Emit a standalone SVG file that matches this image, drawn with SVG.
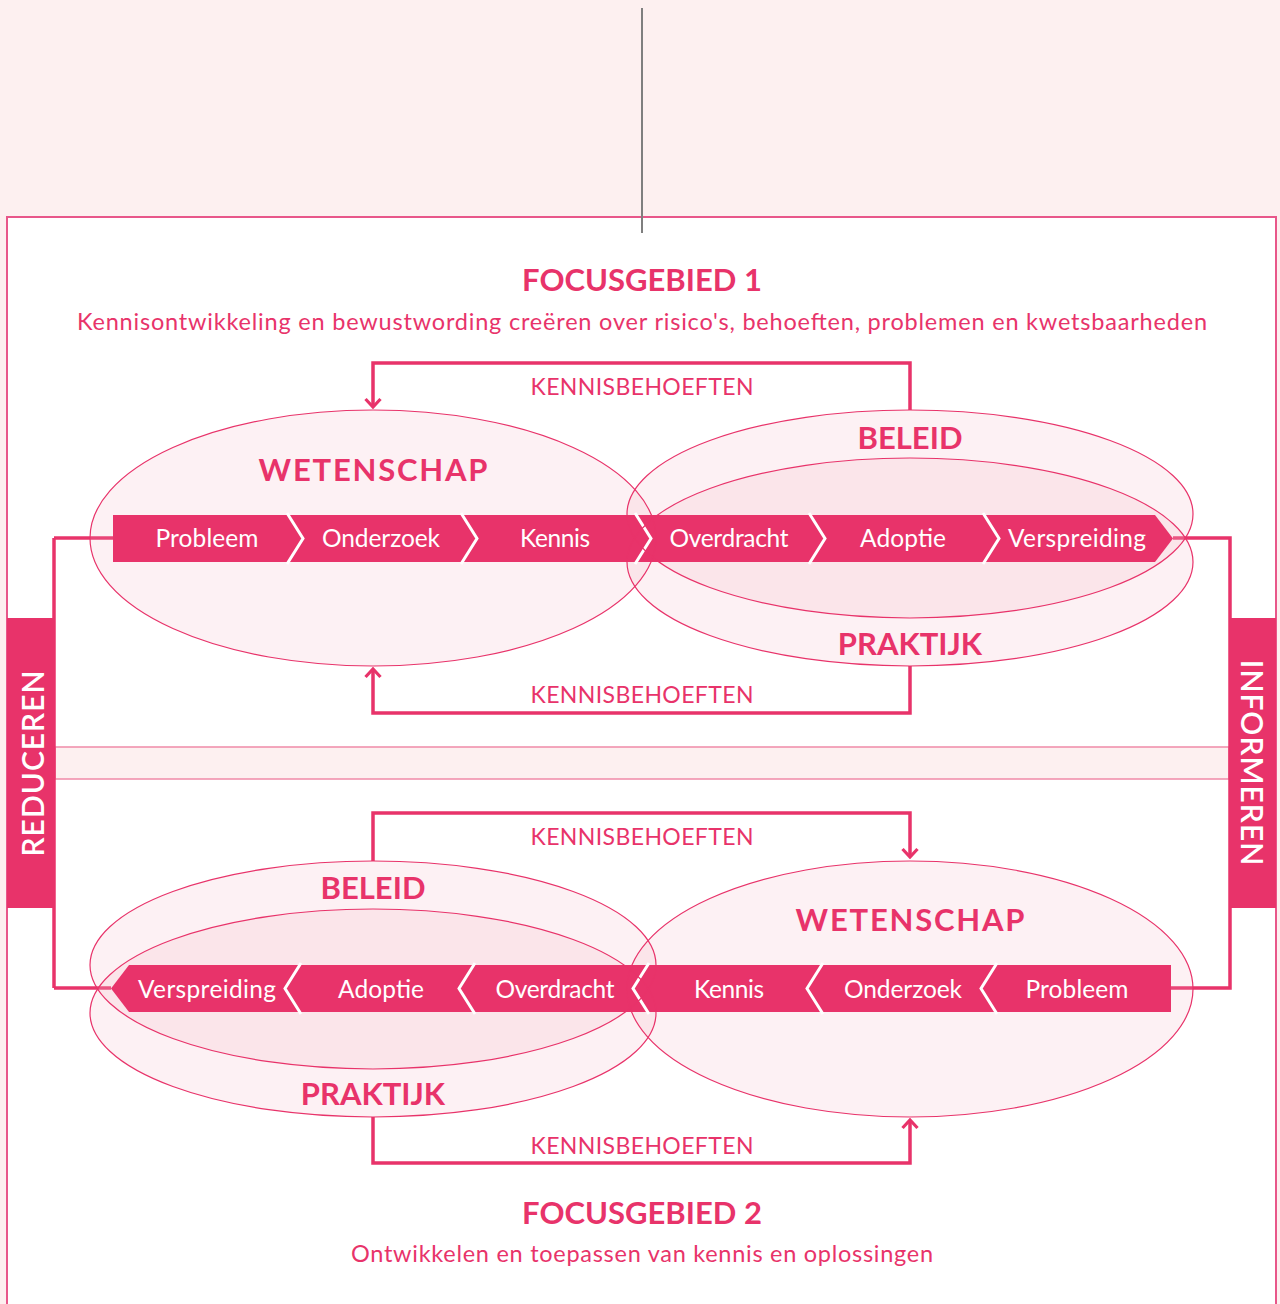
<svg xmlns="http://www.w3.org/2000/svg" width="1280" height="1304" viewBox="0 0 1280 1304">
<style>
.t{font-family:Lato,"Liberation Sans",sans-serif;fill:#e8336a;text-anchor:middle}
.title{font-size:31px;font-weight:700}
.sub{font-size:23.5px}
.big{font-size:31px;font-weight:700}
.kb{font-size:23px}
.band{font-family:Lato,"Liberation Sans",sans-serif;fill:#fff;font-size:24.5px;text-anchor:middle}
.side{font-family:Lato,"Liberation Sans",sans-serif;fill:#fff;font-size:30px;font-weight:600;text-anchor:middle;letter-spacing:1px}
.ef{fill:#f4a9b8;fill-opacity:0.16;stroke:none}
.es{fill:none;stroke:#e8336a;stroke-width:1.2}
.conn{fill:none;stroke:#e8336a;stroke-width:3.5}
.chev{fill:none;stroke:#fff;stroke-width:3}
</style>
<defs>
<marker id="ah" viewBox="0 0 12 18" refX="10" refY="9" markerWidth="12" markerHeight="18" markerUnits="userSpaceOnUse" orient="auto">
<path d="M2,1.5 L10,9 L2,16.5" fill="none" stroke="#e8336a" stroke-width="3.2"/>
</marker>
</defs>
<rect x="0" y="0" width="1280" height="1304" fill="#fdf0f0"/>
<rect x="7" y="217" width="1269" height="1100" fill="#fff" stroke="#e8578a" stroke-width="2"/>
<line x1="642" y1="8" x2="642" y2="233" stroke="#7f7f7f" stroke-width="2"/>
<rect x="55" y="747" width="1174" height="32" fill="#fdf0f0" stroke="#f08aa8" stroke-width="1.5"/>

<g id="titles">
<text class="t title" x="642" y="291">FOCUSGEBIED 1</text>
<text class="t sub" x="642" y="330" textLength="1130" lengthAdjust="spacing">Kennisontwikkeling en bewustwording creëren over risico's, behoeften, problemen en kwetsbaarheden</text>
<text class="t title" x="642" y="1224">FOCUSGEBIED 2</text>
<text class="t sub" x="642" y="1262" textLength="582" lengthAdjust="spacing">Ontwikkelen en toepassen van kennis en oplossingen</text>
</g>

<g id="connectors">
<polyline class="conn" points="54,538 54,988"/>
<polyline class="conn" points="113,538 54,538"/>
<polyline class="conn" points="54,988 111,988"/>
<polyline class="conn" points="1173,538 1230,538 1230,988 1171,988"/>
<polyline class="conn" points="910,410 910,363 373,363 373,407" marker-end="url(#ah)"/>
<polyline class="conn" points="910,666 910,713 373,713 373,669" marker-end="url(#ah)"/>
<polyline class="conn" points="373,861 373,813 910,813 910,857" marker-end="url(#ah)"/>
<polyline class="conn" points="373,1117 373,1163 910,1163 910,1120" marker-end="url(#ah)"/>
<text class="t kb" x="642" y="395" textLength="223" lengthAdjust="spacing">KENNISBEHOEFTEN</text>
<text class="t kb" x="642" y="703" textLength="223" lengthAdjust="spacing">KENNISBEHOEFTEN</text>
<text class="t kb" x="642" y="845" textLength="223" lengthAdjust="spacing">KENNISBEHOEFTEN</text>
<text class="t kb" x="642" y="1154" textLength="223" lengthAdjust="spacing">KENNISBEHOEFTEN</text>
</g>

<g id="side-reduceren">
<rect x="7" y="618" width="48" height="290" fill="#e8336a"/>
<text class="side" transform="translate(44,763) rotate(-90)">REDUCEREN</text>
</g>
<g id="side-informeren">
<rect x="1229" y="618" width="47" height="290" fill="#e8336a"/>
<text class="side" transform="translate(1241,763) rotate(90)">INFORMEREN</text>
</g>

<g id="ellipse-fills">
<ellipse class="ef" cx="373" cy="538" rx="283" ry="128"/>
<ellipse class="ef" cx="910" cy="514" rx="283" ry="104"/>
<ellipse class="ef" cx="910" cy="562" rx="283" ry="104"/>
<ellipse class="ef" cx="910" cy="989" rx="283" ry="128"/>
<ellipse class="ef" cx="373" cy="965" rx="283" ry="104"/>
<ellipse class="ef" cx="373" cy="1013" rx="283" ry="104"/>
</g>

<g id="band-1">
<polygon points="113,515 1155,515 1173,538.5 1155,562 113,562" fill="#e8336a"/>
<polyline class="chev" points="287,513 303,538.5 287,564"/>
<polyline class="chev" points="461,513 477,538.5 461,564"/>
<polyline class="chev" points="635,513 651,538.5 635,564"/>
<polyline class="chev" points="809,513 825,538.5 809,564"/>
<polyline class="chev" points="983,513 999,538.5 983,564"/>
<text class="band" x="207" y="547" textLength="103" lengthAdjust="spacing">Probleem</text>
<text class="band" x="381" y="547" textLength="118" lengthAdjust="spacing">Onderzoek</text>
<text class="band" x="555" y="547" textLength="70" lengthAdjust="spacing">Kennis</text>
<text class="band" x="729" y="547" textLength="119" lengthAdjust="spacing">Overdracht</text>
<text class="band" x="903" y="547" textLength="86" lengthAdjust="spacing">Adoptie</text>
<text class="band" x="1077" y="547" textLength="138" lengthAdjust="spacing">Verspreiding</text>
</g>

<g id="band-2">
<polygon points="1171,965 129,965 111,988.5 129,1012 1171,1012" fill="#e8336a"/>
<polyline class="chev" points="997,963 981,988.5 997,1014"/>
<polyline class="chev" points="823,963 807,988.5 823,1014"/>
<polyline class="chev" points="649,963 633,988.5 649,1014"/>
<polyline class="chev" points="475,963 459,988.5 475,1014"/>
<polyline class="chev" points="301,963 285,988.5 301,1014"/>
<text class="band" x="207" y="998" textLength="138" lengthAdjust="spacing">Verspreiding</text>
<text class="band" x="381" y="998" textLength="86" lengthAdjust="spacing">Adoptie</text>
<text class="band" x="555" y="998" textLength="119" lengthAdjust="spacing">Overdracht</text>
<text class="band" x="729" y="998" textLength="70" lengthAdjust="spacing">Kennis</text>
<text class="band" x="903" y="998" textLength="118" lengthAdjust="spacing">Onderzoek</text>
<text class="band" x="1077" y="998" textLength="103" lengthAdjust="spacing">Probleem</text>
</g>

<g id="node-wetenschap-1">
<ellipse class="es" cx="373" cy="538" rx="283" ry="128"/>
<text class="t big" x="373" y="481" textLength="229" lengthAdjust="spacing">WETENSCHAP</text>
</g>
<g id="node-beleid-1">
<ellipse class="es" cx="910" cy="514" rx="283" ry="104"/>
<text class="t big" x="910" y="449">BELEID</text>
</g>
<g id="node-praktijk-1">
<ellipse class="es" cx="910" cy="562" rx="283" ry="104"/>
<text class="t big" x="910" y="655">PRAKTIJK</text>
</g>
<g id="node-wetenschap-2">
<ellipse class="es" cx="910" cy="989" rx="283" ry="128"/>
<text class="t big" x="910" y="931" textLength="229" lengthAdjust="spacing">WETENSCHAP</text>
</g>
<g id="node-beleid-2">
<ellipse class="es" cx="373" cy="965" rx="283" ry="104"/>
<text class="t big" x="373" y="899">BELEID</text>
</g>
<g id="node-praktijk-2">
<ellipse class="es" cx="373" cy="1013" rx="283" ry="104"/>
<text class="t big" x="373" y="1105">PRAKTIJK</text>
</g>
</svg>
